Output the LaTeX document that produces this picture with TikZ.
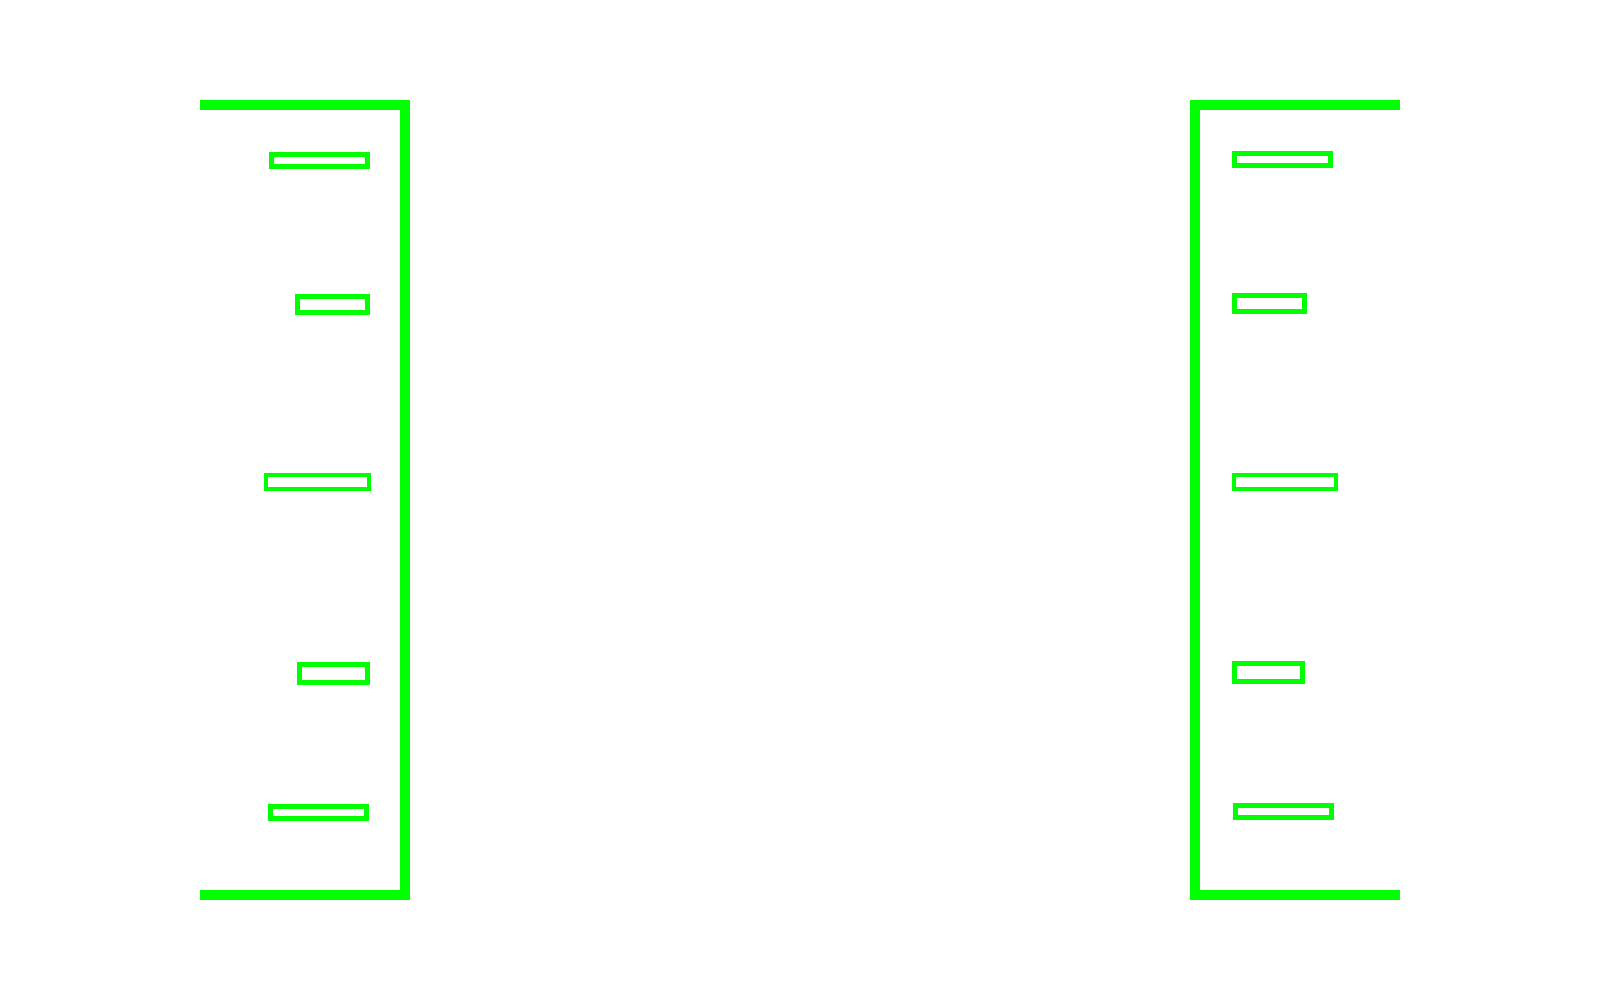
\documentclass[tikz,border=0pt]{standalone}
\definecolor{brightgreen}{HTML}{00FF00}
\tikzset{
  bracket/.style={draw=brightgreen, line width=10pt, miter limit=10},
  slot/.style={draw=brightgreen, line width=4.7pt},
  thinslot/.style={draw=brightgreen, line width=3.4pt}
}
\begin{document}
\begin{tikzpicture}[x=1pt,y=-1pt]
\useasboundingbox (0,0) rectangle (1600,1000);
% left bracket
\draw[bracket] (200,105) -- (405,105) -- (405,895) -- (200,895);
\draw[slot] (271.5,154.5) rectangle (367.5,166.5);
\draw[slot] (297.5,296.5) rectangle (367.5,312.5);
\draw[thinslot] (266,475) rectangle (369,489);
\draw[slot] (299.5,664.5) rectangle (367.5,682.5);
\draw[slot] (270.5,806.5) rectangle (366.5,818.5);
% right bracket
\draw[bracket] (1400,105) -- (1195,105) -- (1195,895) -- (1400,895);
\draw[slot] (1234.5,153.5) rectangle (1330.5,165.5);
\draw[slot] (1234.5,295.5) rectangle (1304.5,311.5);
\draw[thinslot] (1234,475) rectangle (1336,489);
\draw[slot] (1234.5,663.5) rectangle (1302.5,681.5);
\draw[slot] (1235.5,805.5) rectangle (1331.5,817.5);
\end{tikzpicture}
\end{document}
